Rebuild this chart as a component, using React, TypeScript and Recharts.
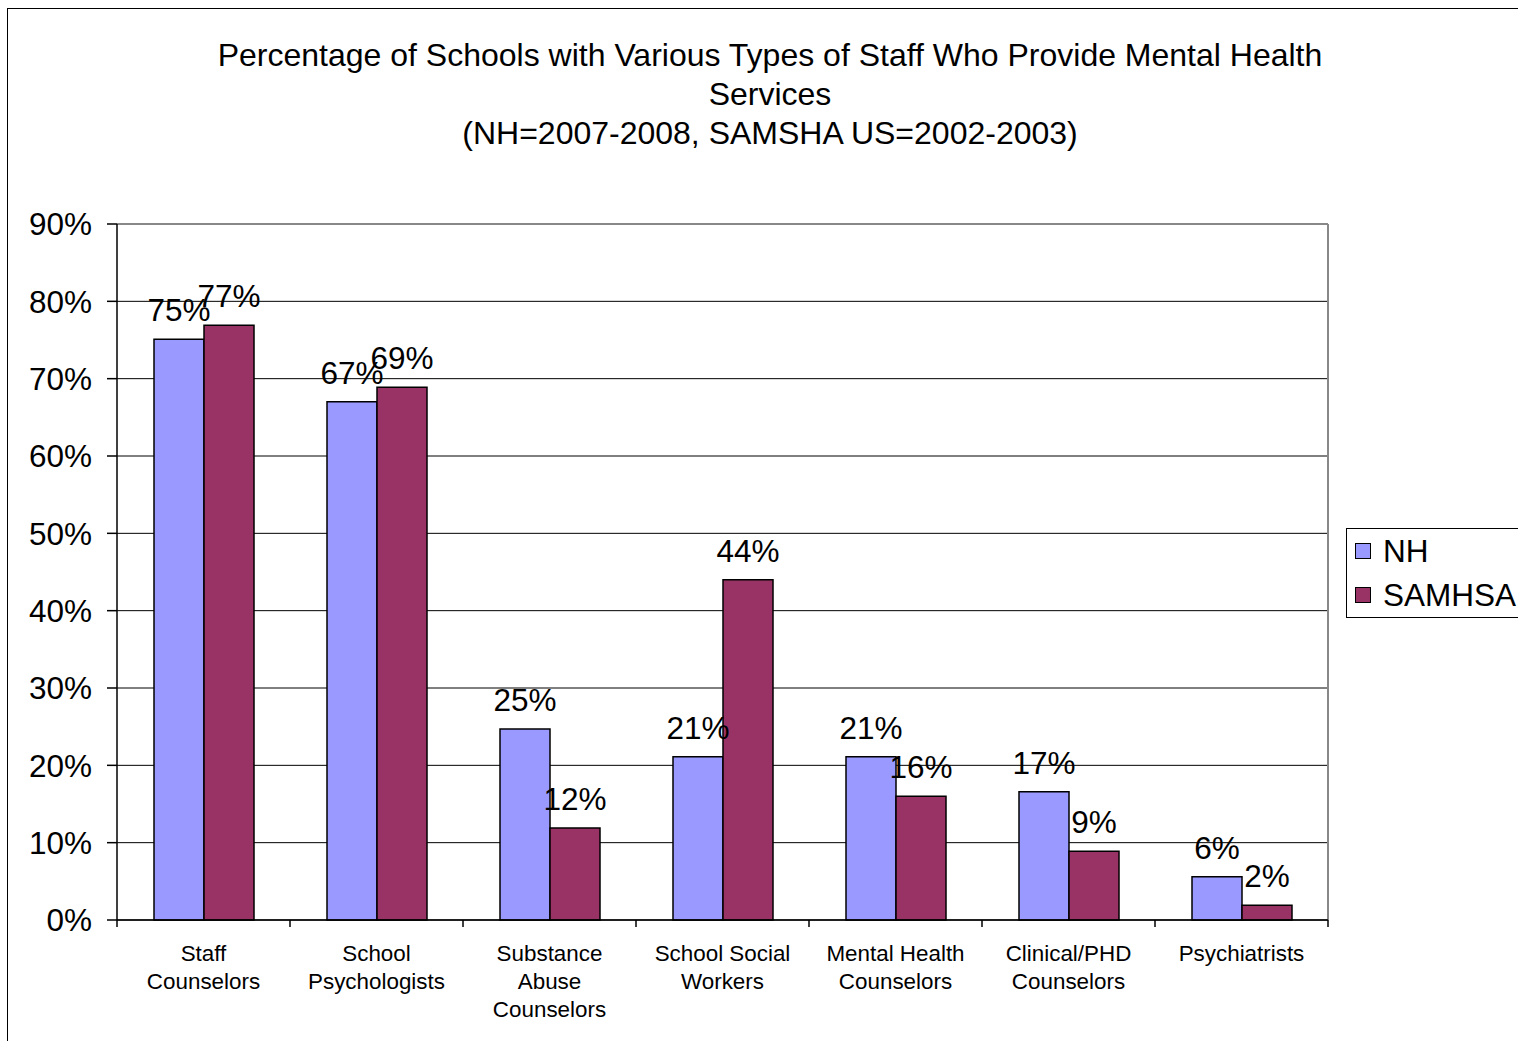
import React from 'react';
import {
  BarChart,
  Bar,
  XAxis,
  YAxis,
  CartesianGrid,
  Legend,
  LabelList,
  ReferenceLine,
} from 'recharts';

const categories = [
  'Staff Counselors',
  'School Psychologists',
  'Substance Abuse Counselors',
  'School Social Workers',
  'Mental Health Counselors',
  'Clinical/PHD Counselors',
  'Psychiatrists',
];
// how Excel wrapped each category label
const categoryLines: Record<string, string[]> = {
  'Staff Counselors': ['Staff', 'Counselors'],
  'School Psychologists': ['School', 'Psychologists'],
  'Substance Abuse Counselors': ['Substance', 'Abuse', 'Counselors'],
  'School Social Workers': ['School Social', 'Workers'],
  'Mental Health Counselors': ['Mental Health', 'Counselors'],
  'Clinical/PHD Counselors': ['Clinical/PHD', 'Counselors'],
  Psychiatrists: ['Psychiatrists'],
};
const nhValues = [75.1, 67.0, 24.7, 21.1, 21.1, 16.6, 5.6];
const samhsaValues = [76.9, 68.9, 11.9, 44.0, 16.0, 8.9, 1.9];
const yTicks = [0, 10, 20, 30, 40, 50, 60, 70, 80, 90];
const titleLines = [
  'Percentage of Schools with Various Types of Staff Who Provide Mental Health',
  'Services',
  '(NH=2007-2008, SAMSHA US=2002-2003)',
];

const data = categories.map((name, i) => ({
  name,
  NH: nhValues[i],
  SAMHSA: samhsaValues[i],
}));

const FONT = '"Liberation Sans", Arial, sans-serif';
const BIG = 31.5;
const X_TICK_MARGIN = 25;

// category label plus the Excel-style tick marks at the band edges
const CategoryTick = (props: any) => {
  const { x, y, payload, index, width, visibleTicksCount } = props;
  const lines = categoryLines[payload.value] || [payload.value];
  const half = payload.offset || width / visibleTicksCount / 2;
  const axisY = y - X_TICK_MARGIN;
  const last = index === visibleTicksCount - 1;
  return (
    <g>
      <line x1={x - half} x2={x - half} y1={axisY} y2={axisY + 7} stroke="#000" strokeWidth={1.5} />
      {last && (
        <line x1={x + half} x2={x + half} y1={axisY} y2={axisY + 7} stroke="#000" strokeWidth={1.5} />
      )}
      <text x={x} y={y} textAnchor="middle" fill="#000" fontSize={22.4} fontFamily={FONT}>
        {lines.map((l, i) => (
          <tspan key={i} x={x} dy={i === 0 ? 16 : 28}>
            {l}
          </tspan>
        ))}
      </text>
    </g>
  );
};

const LegendBox = (props: any) => {
  const { payload } = props;
  return (
    <div
      style={{
        border: '1px solid #000',
        background: '#fff',
        width: 200,
        boxSizing: 'border-box',
        padding: '0 0 0 8px',
        fontFamily: FONT,
      }}
    >
      {(payload || []).map((p: any) => (
        <div
          key={p.value}
          style={{ display: 'flex', alignItems: 'center', height: 44, fontSize: BIG, color: '#000' }}
        >
          <span
            style={{
              display: 'inline-block',
              width: 14,
              height: 14,
              background: p.color,
              border: '1px solid #000',
              marginRight: 12,
            }}
          />
          {p.value}
        </div>
      ))}
    </div>
  );
};

const pct = (v: any) => `${Math.round(Number(v))}%`;

export default function App() {
  return (
    <div style={{ position: 'fixed', left: 0, top: 0, width: 1518, height: 1041, overflow: 'hidden', background: '#fff' }}>
      <div
        style={{
          position: 'absolute',
          left: 7,
          top: 8,
          width: 1560,
          height: 1080,
          border: '1.5px solid #000',
        }}
      />
      <div
        style={{
          position: 'absolute',
          left: 0,
          top: 36,
          width: 1540,
          textAlign: 'center',
          fontFamily: FONT,
          fontSize: 32,
          lineHeight: '39px',
          color: '#000',
        }}
      >
        {titleLines.map((t) => (
          <div key={t}>{t}</div>
        ))}
      </div>
      <div style={{ position: 'absolute', left: 0, top: 0 }}>
        <BarChart
          width={1518}
          height={1041}
          data={data}
          margin={{ top: 224, right: 190, bottom: 0, left: 0 }}
          barGap={0}
          style={{ fontFamily: FONT }}
        >
          <CartesianGrid vertical={false} stroke="#000" strokeWidth={1} />
          <XAxis
            dataKey="name"
            type="category"
            height={121}
            axisLine={{ stroke: '#000', strokeWidth: 1.5 }}
            tickLine={false}
            tickSize={0}
            tickMargin={X_TICK_MARGIN}
            interval={0}
            tick={<CategoryTick />}
          />
          <YAxis
            domain={[0, 90]}
            ticks={yTicks}
            width={117}
            tickSize={10}
            tickMargin={15}
            tickFormatter={(v: number) => `${v}%`}
            tick={{ fill: '#000', fontSize: BIG, fontFamily: FONT }}
            axisLine={{ stroke: '#000', strokeWidth: 1.5 }}
            tickLine={{ stroke: '#000', strokeWidth: 1.5 }}
            interval={0}
          />
          <ReferenceLine y={90} stroke="#888" strokeWidth={2} />
          <ReferenceLine
            x={categories[categories.length - 1]}
            position="end"
            stroke="#888"
            strokeWidth={2}
          />
          <Legend
            layout="horizontal"
            align="center"
            verticalAlign="middle"
            content={<LegendBox />}
            wrapperStyle={{ left: 1346, top: 528, width: 200 }}
          />
          <Bar
            dataKey="NH"
            name="NH"
            fill="#9999FF"
            stroke="#000"
            strokeWidth={1.5}
            barSize={50}
            isAnimationActive={false}
          >
            <LabelList
              dataKey="NH"
              position="top"
              offset={18}
              formatter={pct}
              fill="#000"
              fontSize={BIG}
              fontFamily={FONT}
            />
          </Bar>
          <Bar
            dataKey="SAMHSA"
            name="SAMHSA"
            fill="#993366"
            stroke="#000"
            strokeWidth={1.5}
            barSize={50}
            isAnimationActive={false}
          >
            <LabelList
              dataKey="SAMHSA"
              position="top"
              offset={18}
              formatter={pct}
              fill="#000"
              fontSize={BIG}
              fontFamily={FONT}
            />
          </Bar>
        </BarChart>
      </div>
    </div>
  );
}
